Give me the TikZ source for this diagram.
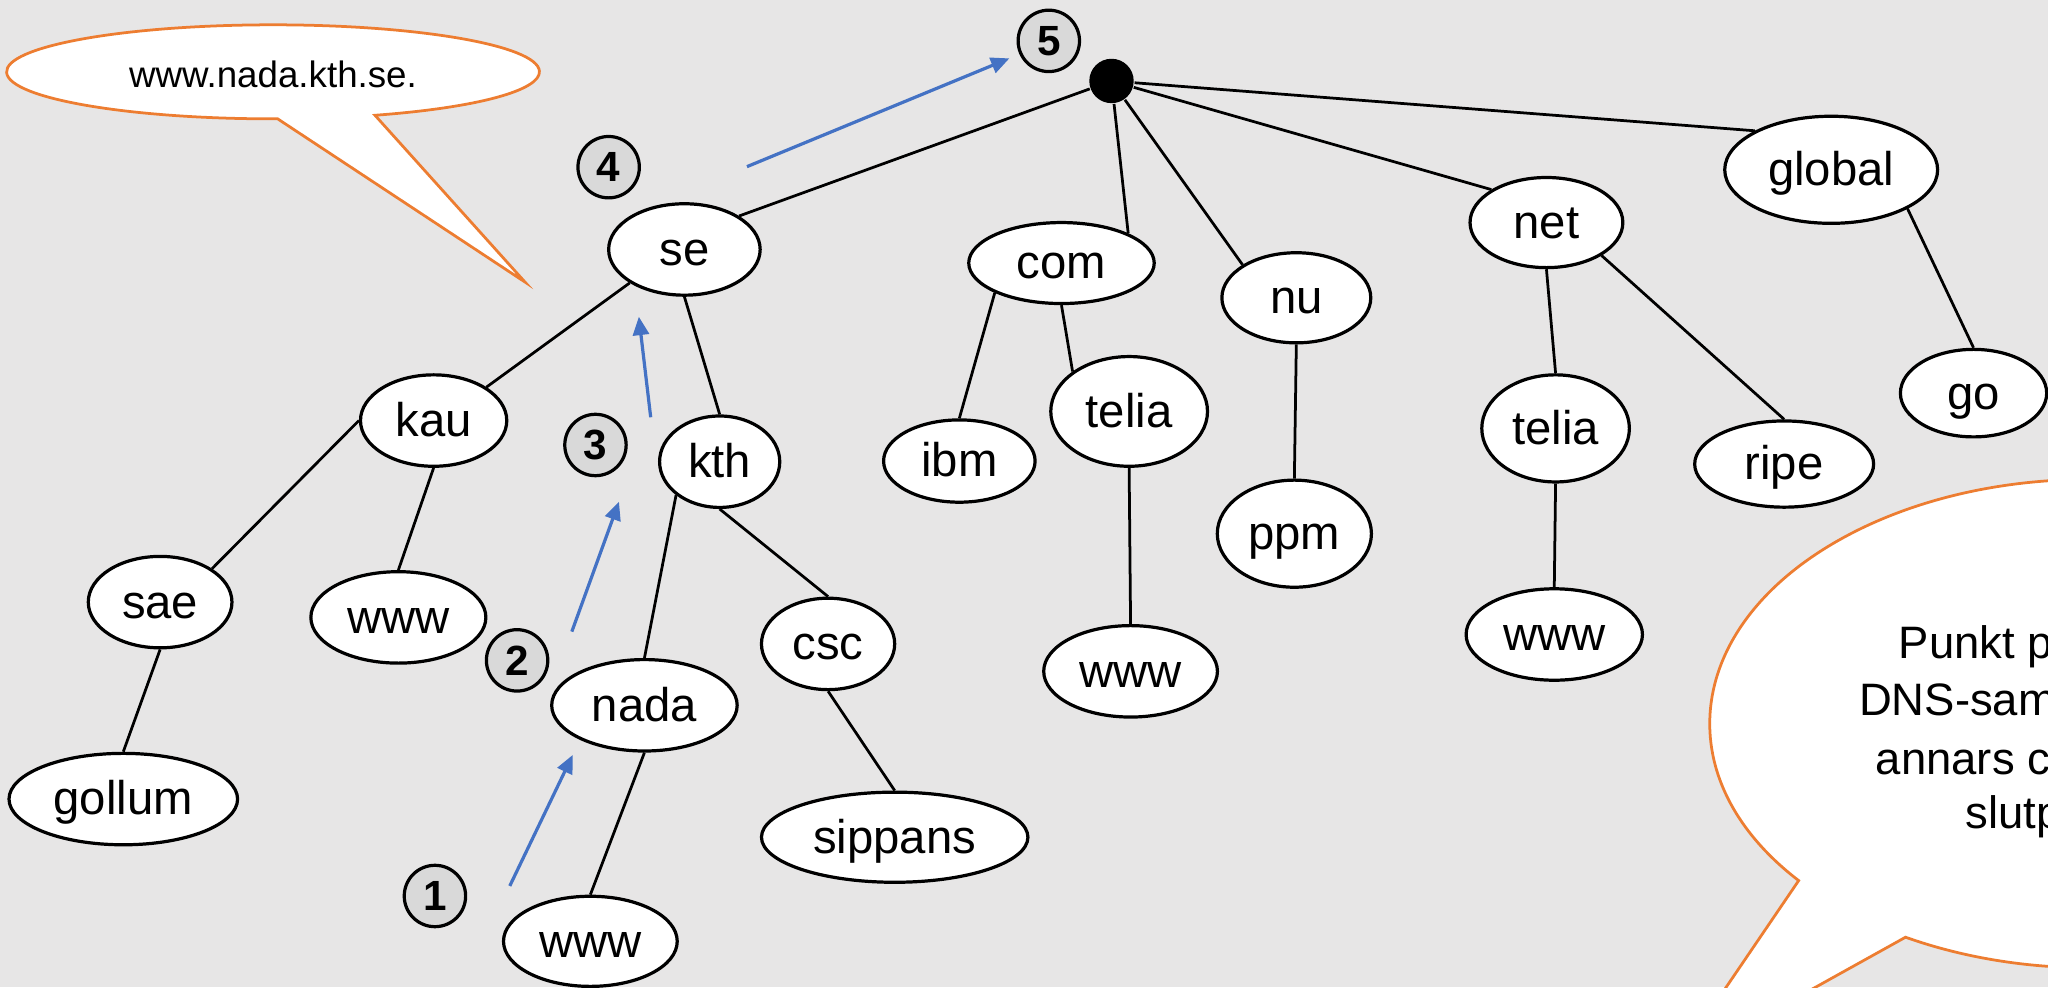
\documentclass[tikz,border=0pt]{standalone}
\usepackage{fontspec}
\setmainfont{Liberation Sans}
\usetikzlibrary{shapes.geometric,arrows.meta}
\definecolor{bggray}{HTML}{E7E6E6}
\definecolor{bubbleorange}{HTML}{ED7D31}
\definecolor{hopblue}{HTML}{4472C4}
\definecolor{hopgray}{HTML}{D9D9D9}
\tikzset{
  dom/.style={ellipse, draw, fill=white, line width=0.7pt, inner sep=0pt,
    text height=0.905em, text depth=0.212em,
    font=\fontsize{10.3}{12}\selectfont},
  sz/.style 2 args={minimum width=#1mm, minimum height=#2mm},
  hopno/.style={circle, draw, fill=hopgray, line width=0.7pt, minimum size=4.7mm,
    inner sep=0pt, font=\fontsize{9.2}{10}\selectfont\bfseries},
  link/.style={line width=0.6pt},
  hop/.style={hopblue, line width=0.7pt, -{Triangle[length=4pt,width=3.5pt]}},
  bubble/.style={draw=bubbleorange, fill=white, line width=0.6pt},
  notetext/.style={anchor=base west, inner sep=0pt, font=\fontsize{9.9}{12}\selectfont},
}
\begin{document}
\begin{tikzpicture}[x=0.1mm, y=-0.1mm]
  \useasboundingbox (0,0) rectangle (1568,756);
  \fill[bggray] (0,0) rectangle (1568,756);
  \clip (0,0) rectangle (1568,756);

  \begin{scope}
    \draw[bubble] (212.6,91) arc[start angle=89, end angle=427.5, x radius=204, y radius=36] -- (402,216) -- cycle;
    \node[font=\fontsize{8}{10}\selectfont] (fqdn) at (209,57) {www.nada.kth.se.};
    \draw[bubble] (1377.1,674.2) arc[start angle=140, end angle=479, x radius=291, y radius=187] -- (1280,817) -- cycle;
    \node[notetext] (note1) at (1453,504.3) {Punkt p};
    \node[notetext] (note2) at (1422.7,548.1) {DNS-sam};
    \node[notetext] (note3) at (1435.5,593.2) {annars c};
    \node[notetext] (note4) at (1504,634.5) {slutp};
  \end{scope}

  \begin{scope}
    \node[circle, fill=black, minimum size=3.4mm, inner sep=0pt] (root) at (851,62) {};
    \node[dom, sz={11.6}{7.0}] (se) at (524,191) {se};
    \node[dom, sz={11.2}{7.0}] (kau) at (332,322) {kau};
    \node[dom, sz={9.2}{7.0}] (kth) at (551,353.5) {kth};
    \node[dom, sz={11.0}{7.0}] (sae) at (122.6,461) {sae};
    \node[dom, sz={13.4}{7.0}] (wwwkau) at (305,472.7) {www};
    \node[dom, sz={17.5}{7.0}] (gollum) at (94.4,611.8) {gollum};
    \node[dom, sz={14.2}{7.0}] (nada) at (493.4,540) {nada};
    \node[dom, sz={10.2}{7.0}] (csc) at (634,493) {csc};
    \node[dom, sz={20.4}{6.9}] (sippans) at (685,641) {sippans};
    \node[dom, sz={13.3}{6.9}] (wwwnada) at (452,720.7) {www};
    \node[dom, sz={14.2}{6.2}] (com) at (812.7,201.4) {com};
    \node[dom, sz={11.6}{6.3}] (ibm) at (734.5,353) {ibm};
    \node[dom, sz={12.0}{8.4}] (teliacom) at (864.5,315) {telia};
    \node[dom, sz={13.3}{7.0}] (wwwcom) at (865.6,514) {www};
    \node[dom, sz={11.4}{6.9}] (nu) at (992.5,228) {nu};
    \node[dom, sz={11.8}{8.2}] (ppm) at (991,408.6) {ppm};
    \node[dom, sz={11.7}{6.9}] (net) at (1184,170.4) {net};
    \node[dom, sz={11.3}{8.2}] (telianet) at (1191,328) {telia};
    \node[dom, sz={13.5}{7.0}] (wwwnet) at (1190,485.8) {www};
    \node[dom, sz={13.7}{6.6}] (ripe) at (1366,355.3) {ripe};
    \node[dom, sz={16.3}{8.2}] (global) at (1402,130) {global};
    \node[dom, sz={11.2}{6.7}] (go) at (1511,301) {go};

    \draw[link] (root) -- (se.north east);
    \draw[link] (root) -- (com.north east);
    \draw[link] (root) -- (nu.north west);
    \draw[link] (root) -- (net.north west);
    \draw[link] (root) -- (global.north west);
    \draw[link] (se.south west) -- (kau.north east);
    \draw[link] (se.south) -- (kth.north);
    \draw[link] (kau.west) -- (sae.north east);
    \draw[link] (kau.south) -- (wwwkau.north);
    \draw[link] (sae.south) -- (gollum.north);
    \draw[link] (kth.south west) -- (nada.north);
    \draw[link] (kth.south) -- (csc.north);
    \draw[link] (nada.south) -- (wwwnada.north);
    \draw[link] (csc.south) -- (sippans.north);
    \draw[link] (com.south west) -- (ibm.north);
    \draw[link] (com.south) -- (teliacom.north west);
    \draw[link] (teliacom.south) -- (wwwcom.north);
    \draw[link] (nu.south) -- (ppm.north);
    \draw[link] (net.south) -- (telianet.north);
    \draw[link] (net.south east) -- (ripe.north);
    \draw[link] (telianet.south) -- (wwwnet.north);
    \draw[link] (global.south east) -- (go.north);
  \end{scope}

  \begin{scope}
    \node[hopno] (hop1) at (333,686) {1};
    \node[hopno] (hop2) at (395.9,505.6) {2};
    \node[hopno] (hop3) at (455.9,340.7) {3};
    \node[hopno] (hop4) at (466,128) {4};
    \node[hopno] (hop5) at (803,31.3) {5};
    \coordinate (h1a) at (390.3,678.3);
    \coordinate (h1b) at (438.5,578);
    \coordinate (h2a) at (437.8,483.6);
    \coordinate (h2b) at (473.9,384.1);
    \coordinate (h3a) at (498.2,319.5);
    \coordinate (h3b) at (489.1,242.5);
    \coordinate (h4a) at (571.9,127.6);
    \coordinate (h4b) at (772.8,44.7);
    \draw[hop] (h1a) -- (h1b);
    \draw[hop] (h2a) -- (h2b);
    \draw[hop] (h3a) -- (h3b);
    \draw[hop] (h4a) -- (h4b);
  \end{scope}
\end{tikzpicture}
\end{document}
